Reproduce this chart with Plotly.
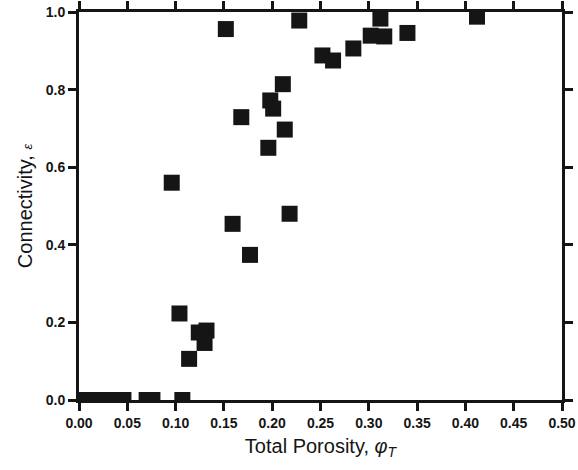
import plotly.graph_objects as go

# Total porosity (phi_T) and connectivity (epsilon)
porosity = [0.005, 0.020, 0.035, 0.046, 0.070, 0.076, 0.107,
            0.096, 0.104, 0.114, 0.124, 0.132, 0.130,
            0.152, 0.159, 0.168, 0.177, 0.196, 0.198, 0.201, 0.211, 0.213, 0.218,
            0.228, 0.252, 0.263, 0.284, 0.302, 0.312, 0.316, 0.340, 0.412]
connectivity = [0.0, 0.0, 0.0, 0.0, 0.0, 0.0, 0.0,
                0.560, 0.223, 0.106, 0.174, 0.179, 0.147,
                0.956, 0.454, 0.729, 0.374, 0.650, 0.772, 0.751, 0.814, 0.697, 0.480,
                0.978, 0.888, 0.875, 0.906, 0.939, 0.983, 0.937, 0.946, 0.988]

x_range = [0, 0.5]
y_range = [0, 1.0]
x_ticks = [0.00, 0.05, 0.10, 0.15, 0.20, 0.25, 0.30, 0.35, 0.40, 0.45, 0.50]
x_ticklabels = ["0.00", "0.05", "0.10", "0.15", "0.20", "0.25", "0.30", "0.35", "0.40", "0.45", "0.50"]
y_ticks = [0.0, 0.2, 0.4, 0.6, 0.8, 1.0]
y_ticklabels = ["0.0", "0.2", "0.4", "0.6", "0.8", "1.0"]

INK = "#151515"
FONT = "Liberation Sans, Arial, sans-serif"

fig = go.Figure()
fig.add_trace(go.Scatter(
    x=porosity, y=connectivity, mode="markers",
    marker=dict(symbol="square", size=16, color=INK, line=dict(width=0)),
    showlegend=False, hoverinfo="skip",
))

tickfont = dict(family=FONT, size=14, color=INK)

fig.update_layout(
    width=578, height=470,
    margin=dict(l=79, r=16, t=12, b=70, autoexpand=False),
    paper_bgcolor="white", plot_bgcolor="white",
    font=dict(family=FONT, color=INK),
    xaxis=dict(
        range=x_range, tickmode="array", tickvals=x_ticks,
        ticktext=["<b>%s</b>" % t for t in x_ticklabels],
        showgrid=False, zeroline=False,
        showline=True, mirror="ticks", linecolor=INK, linewidth=3,
        ticks="outside", ticklen=8, tickwidth=3, tickcolor=INK,
        tickfont=tickfont,
        title=dict(text="Total Porosity, <i>φ</i><sub><i>T</i></sub>",
                   font=dict(family=FONT, size=20, color=INK), standoff=10),
    ),
    yaxis=dict(
        range=y_range, tickmode="array", tickvals=y_ticks,
        ticktext=["<b>%s</b>" % t for t in y_ticklabels],
        showgrid=False, zeroline=False,
        showline=True, mirror="ticks", linecolor=INK, linewidth=3,
        ticks="outside", ticklen=8, tickwidth=3, tickcolor=INK,
        tickfont=tickfont,
        title=dict(text="Connectivity, <span style='font-size:13px'><i>ε</i></span>",
                   font=dict(family=FONT, size=20, color=INK), standoff=8),
    ),
)

fig.write_html("out.html", config={"displayModeBar": False},
               post_script="document.body.style.margin='0';")
